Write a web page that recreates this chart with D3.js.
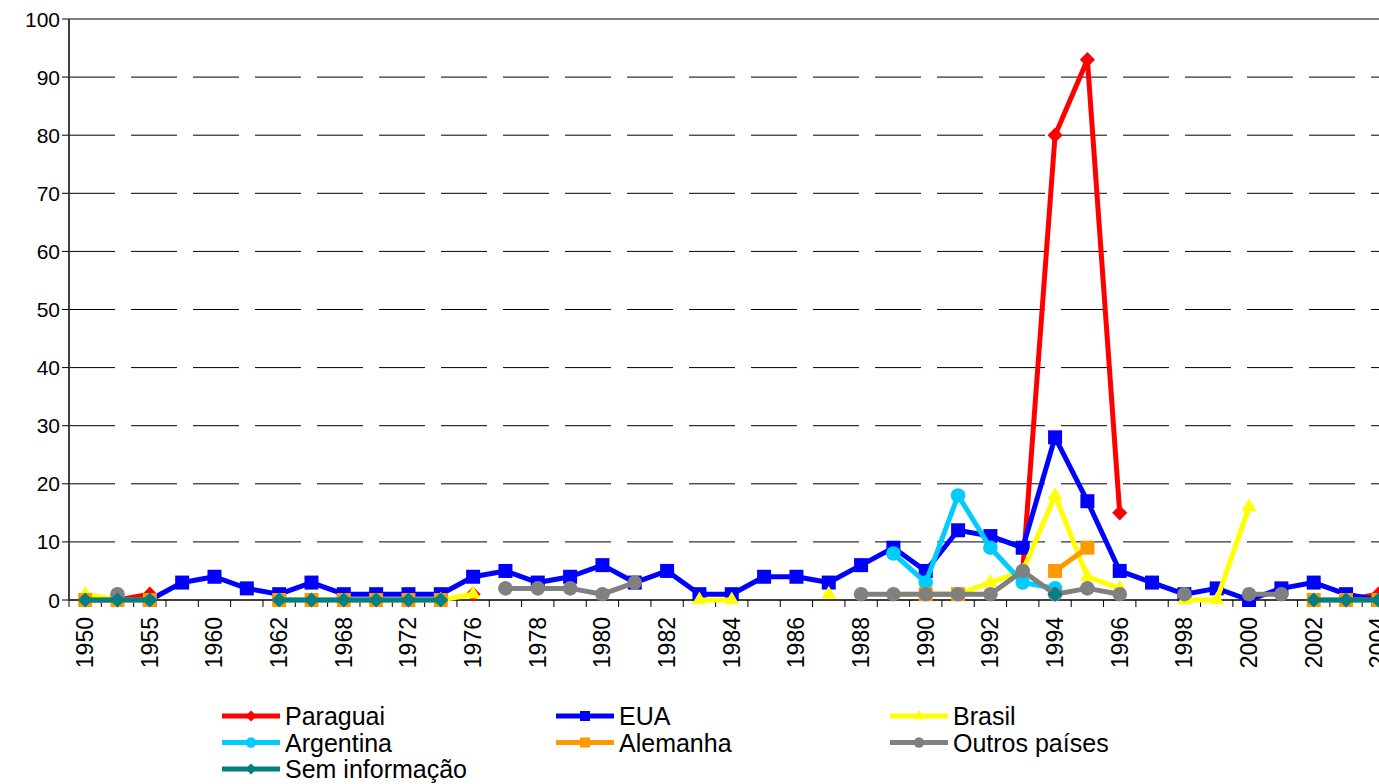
<!DOCTYPE html>
<html>
<head>
<meta charset="utf-8">
<script src="https://cdn.jsdelivr.net/npm/d3@7"></script>
<style>
  body { margin: 0; background: #fff; overflow: hidden; }
  svg { display: block; font-family: Arial, "Liberation Sans", sans-serif; }
</style>
</head>
<body>
<script>
// categories (hidden ones between labelled years are guesses)
var years = [1950, 1953, 1955, 1958, 1960, 1961, 1962, 1965, 1968, 1970, 1972, 1974,
             1976, 1977, 1978, 1979, 1980, 1981, 1982, 1983, 1984, 1985, 1986, 1987,
             1988, 1989, 1990, 1991, 1992, 1993, 1994, 1995, 1996, 1997, 1998, 1999,
             2000, 2001, 2002, 2003, 2004];
var yTicks = [0, 10, 20, 30, 40, 50, 60, 70, 80, 90, 100];

var _ = null;
//                 50 53 55 58 60 61 62 65 68 70 72 74 76 77 78 79 80 81 82 83 84 85 86 87 88 89 90 91 92 93 94 95 96 97 98 99 00 01 02 03 04
var paraguai  = [0, 0, 1, _, _, _, _, _, _, _, _, _, 1, _, _, _, _, _, _, _, _, _, _, _, _, _, _, _, _, 5, 80,93,15,_, _, _, _, _, _, 0, 1];
var eua       = [_, _, 0, 3, 4, 2, 1, 3, 1, 1, 1, 1, 4, 5, 3, 4, 6, 3, 5, 1, 1, 4, 4, 3, 6, 9, 5, 12,11,9, 28,17,5, 3, 1, 2, 0, 2, 3, 1, 0];
var brasil    = [1, 0, _, _, _, _, _, _, _, _, _, 0, 1, _, _, _, _, _, _, 0, 0, _, _, 1, _, 1, 1, 1, 3, 5, 18,4, 2, _, 0, 0, 16,_, _, _, _];
var argentina = [_, _, _, _, _, _, _, _, _, _, _, _, _, _, _, _, _, _, _, _, _, _, _, _, _, 8, 3, 18,9, 3, 2, _, _, _, _, _, _, _, _, _, _];
var alemanha  = [0, 0, 0, _, _, _, 0, 0, 0, 0, 0, 0, _, _, _, _, _, _, _, _, _, _, _, _, _, _, 1, 1, _, _, 5, 9, _, _, _, _, _, _, 0, 0, 0];
var outros    = [_, 1, _, _, _, _, _, _, _, _, _, _, _, 2, 2, 2, 1, 3, _, _, _, _, _, _, 1, 1, 1, 1, 1, 5, 1, 2, 1, _, 1, _, 1, 1, _, _, _];
var semInfo   = [0, 0, 0, _, _, _, 0, 0, 0, 0, 0, 0, _, _, _, _, _, _, _, _, _, _, _, _, _, _, _, _, _, _, 1, _, _, _, _, _, _, _, 0, 0, 0];

var seriesNames = ["Paraguai", "EUA", "Brasil", "Argentina", "Alemanha", "Outros países", "Sem informação"];
var seriesValues = [paraguai, eua, brasil, argentina, alemanha, outros, semInfo];

var colors = {
    "Paraguai": "#ff0000", "EUA": "#0000ff", "Brasil": "#ffff00", "Argentina": "#00ccff",
    "Alemanha": "#ff9900", "Outros países": "#808080", "Sem informação": "#008080"
};
var shapes = {
    "Paraguai": "diamond", "EUA": "square", "Brasil": "triangle", "Argentina": "circle",
    "Alemanha": "square", "Outros países": "circle", "Sem informação": "diamond"
};

var width = 1379, height = 784;
var svg = d3.select("body").append("svg")
    .attr("width", width)
    .attr("height", height);

var plotLeft = 69, plotTop = 19, plotBottom = 600;
var band = 32.33;

var x = d3.scaleBand()
    .domain(years)
    .range([plotLeft, plotLeft + band * years.length])
    .padding(0);
var y = d3.scaleLinear().domain([0, 100]).range([plotBottom, plotTop]);
var cx = function(yr){ return x(yr) + x.bandwidth() / 2; };

// gridlines
svg.append("g").selectAll("line")
    .data(yTicks.filter(function(t){ return t > 0 && t < 100; }))
    .enter().append("line")
    .attr("x1", plotLeft).attr("x2", width)
    .attr("y1", function(d){ return y(d); })
    .attr("y2", function(d){ return y(d); })
    .style("stroke", "#000")
    .style("stroke-width", 1)
    .style("stroke-dasharray", "46,16");

// top border
svg.append("line")
    .attr("x1", plotLeft).attr("x2", width)
    .attr("y1", y(100)).attr("y2", y(100))
    .style("stroke", "#808080").style("stroke-width", 2);

// y axis
var yAxis = svg.append("g");
yAxis.append("line")
    .attr("x1", plotLeft).attr("x2", plotLeft)
    .attr("y1", y(100)).attr("y2", y(0))
    .style("stroke", "#404040").style("stroke-width", 2);
yAxis.selectAll(".ytick").data(yTicks).enter().append("line")
    .attr("x1", plotLeft - 7).attr("x2", plotLeft)
    .attr("y1", function(d){ return y(d); })
    .attr("y2", function(d){ return y(d); })
    .style("stroke", "#000").style("stroke-width", 1);
yAxis.selectAll(".ylab").data(yTicks).enter().append("text")
    .attr("x", plotLeft - 9)
    .attr("y", function(d){ return y(d); })
    .attr("dy", "0.36em")
    .attr("text-anchor", "end")
    .style("font-size", "21px")
    .text(function(d){ return d; });

// x axis
var xAxis = svg.append("g");
xAxis.append("line")
    .attr("x1", plotLeft).attr("x2", width)
    .attr("y1", y(0)).attr("y2", y(0))
    .style("stroke", "#404040").style("stroke-width", 2);
xAxis.selectAll(".xtick").data(years).enter().append("line")
    .attr("x1", function(d){ return x(d); })
    .attr("x2", function(d){ return x(d); })
    .attr("y1", y(0)).attr("y2", y(0) + 7)
    .style("stroke", "#000").style("stroke-width", 1);
xAxis.selectAll(".xlab")
    .data(years.filter(function(d, i){ return i % 2 == 0; }))
    .enter().append("text")
    .attr("transform", function(d){
        return "translate(" + (cx(d) + 8) + "," + (y(0) + 17) + ") rotate(-90)";
    })
    .attr("text-anchor", "end")
    .style("font-size", "23px")
    .text(function(d){ return d; });

function marker(sel, shape, s, color){
    if(shape == "circle"){
        sel.append("circle").attr("r", s * 0.52).style("fill", color);
    } else {
        var sym = shape == "square" ? d3.symbolSquare
                : shape == "diamond" ? d3.symbolDiamond2 : d3.symbolTriangle2;
        var area = shape == "square" ? s * s
                 : shape == "diamond" ? s * s * 0.75 : s * s * 0.8;
        sel.append("path").attr("d", d3.symbol().type(sym).size(area)()).style("fill", color);
    }
}

// series
seriesNames.forEach(function(name, k){
    var vals = seriesValues[k];
    var pts = years.map(function(yr, i){ return {yr: yr, v: vals[i]}; });
    var line = d3.line()
        .defined(function(d){ return d.v != null; })
        .x(function(d){ return cx(d.yr); })
        .y(function(d){ return y(d.v); });
    var g = svg.append("g");
    g.append("path")
        .attr("d", line(pts))
        .style("fill", "none")
        .style("stroke", colors[name])
        .style("stroke-width", 5)
        .style("stroke-linejoin", "round");
    g.selectAll(".m").data(pts.filter(function(d){ return d.v != null; }))
        .enter().append("g")
        .attr("transform", function(d){ return "translate(" + cx(d.yr) + "," + y(d.v) + ")"; })
        .each(function(){ marker(d3.select(this), shapes[name], 14, colors[name]); });
});

// legend
var legend = svg.append("g");
seriesNames.forEach(function(name, i){
    var col = i % 3, row = Math.floor(i / 3);
    var lx = 222 + col * 334, ly = 716 + row * 26.5;
    var item = legend.append("g");
    item.append("line")
        .attr("x1", lx).attr("x2", lx + 58)
        .attr("y1", ly).attr("y2", ly)
        .style("stroke", colors[name]).style("stroke-width", 5);
    marker(item.append("g").attr("transform", "translate(" + (lx + 29) + "," + ly + ")"),
           shapes[name], 10, colors[name]);
    item.append("text")
        .attr("x", lx + 63).attr("y", ly + 9)
        .style("font-size", "25px")
        .text(name);
});
</script>
</body>
</html>
